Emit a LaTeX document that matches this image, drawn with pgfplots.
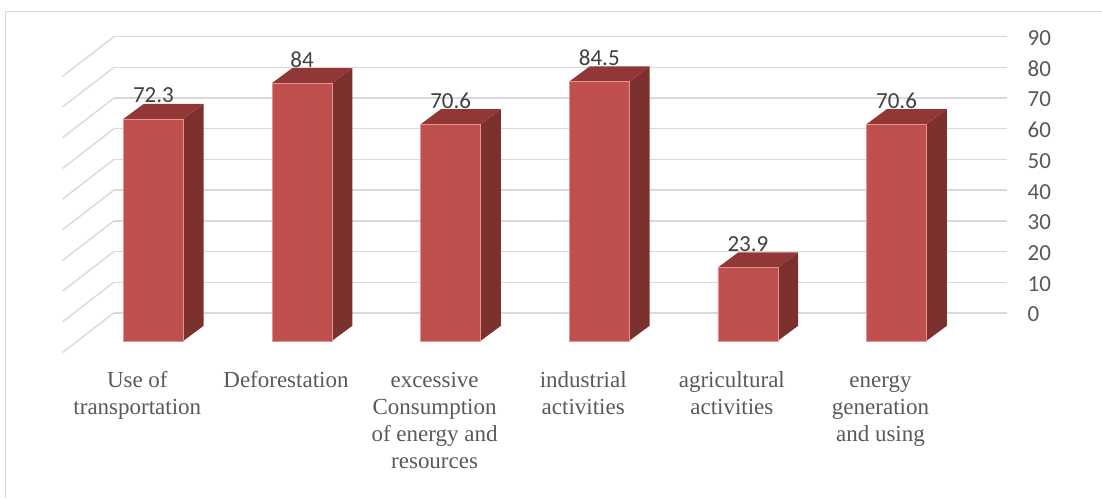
\documentclass[border=0pt]{standalone}
\usepackage{pgfplots}
\pgfplotsset{compat=1.18}
\usepackage{fontspec}
\setmainfont{Liberation Serif}
\newfontfamily\calibri{Carlito}
\definecolor{barfront}{RGB}{192,80,77}
\definecolor{barside}{RGB}{124,49,47}
\definecolor{bartop}{RGB}{145,56,54}
\definecolor{gridc}{RGB}{217,217,217}
\definecolor{labc}{RGB}{89,89,89}
\definecolor{datac}{RGB}{64,64,64}
\definecolor{framec}{RGB}{217,217,217}
\tikzset{catlab/.style={anchor=north, inner sep=0pt, align=center, text=labc, font=\fontsize{23}{27}\selectfont}}
\begin{document}
\begin{tikzpicture}
\begin{axis}[
  x=148.7pt, y=3.07pt,
  xmin=-1.032, xmax=6.379, ymin=-51.14, ymax=111.07,
  scale only axis, clip=false,
  axis line style={draw=none},
  xtick=\empty, ytick=\empty,
]
% chart frame
\draw[framec, line width=1pt] (axis cs:-0.9935,-51.14) -- (axis cs:-0.9935,107.3) -- (axis cs:6.379,107.3);
% back wall and side wall gridlines
\pgfplotsinvokeforeach{9.1,19.1,29.1,39.1,49.1,59.1,69.1,79.1,89.1,99.1}{
  \draw[gridc, line width=1.4pt] (axis cs:-0.266,#1) -- (axis cs:5.746,#1);
  \draw[gridc, line width=1.4pt] (axis cs:-0.611,#1-12.9) -- (axis cs:-0.266,#1);
}
% right-hand value labels
\pgfplotsinvokeforeach{0,10,20,30,40,50,60,70,80,90}{
  \node[anchor=west, inner sep=0pt, text=labc, font=\calibri\fontsize{23}{27}\selectfont, yshift=-1.5pt] at (axis cs:5.881,#1+9.1) {#1};
}
% side faces
\addplot[fill=barside, draw=none] coordinates {(0.2017,0) (0.3382,4.9) (0.3382,77.2) (0.2017,72.3)} -- cycle;
\addplot[fill=barside, draw=none] coordinates {(1.2017,0) (1.3382,4.9) (1.3382,88.9) (1.2017,84)} -- cycle;
\addplot[fill=barside, draw=none] coordinates {(2.2017,0) (2.3382,4.9) (2.3382,75.5) (2.2017,70.6)} -- cycle;
\addplot[fill=barside, draw=none] coordinates {(3.2017,0) (3.3382,4.9) (3.3382,89.4) (3.2017,84.5)} -- cycle;
\addplot[fill=barside, draw=none] coordinates {(4.2017,0) (4.3382,4.9) (4.3382,28.8) (4.2017,23.9)} -- cycle;
\addplot[fill=barside, draw=none] coordinates {(5.2017,0) (5.3382,4.9) (5.3382,75.5) (5.2017,70.6)} -- cycle;
% top faces
\addplot[fill=bartop, draw=none] coordinates {(-0.2017,72.3) (-0.0652,77.2) (0.3382,77.2) (0.2017,72.3)} -- cycle;
\addplot[fill=bartop, draw=none] coordinates {(0.7983,84) (0.9348,88.9) (1.3382,88.9) (1.2017,84)} -- cycle;
\addplot[fill=bartop, draw=none] coordinates {(1.7983,70.6) (1.9348,75.5) (2.3382,75.5) (2.2017,70.6)} -- cycle;
\addplot[fill=bartop, draw=none] coordinates {(2.7983,84.5) (2.9348,89.4) (3.3382,89.4) (3.2017,84.5)} -- cycle;
\addplot[fill=bartop, draw=none] coordinates {(3.7983,23.9) (3.9348,28.8) (4.3382,28.8) (4.2017,23.9)} -- cycle;
\addplot[fill=bartop, draw=none] coordinates {(4.7983,70.6) (4.9348,75.5) (5.3382,75.5) (5.2017,70.6)} -- cycle;
% front faces with data labels
\addplot[ybar, bar width=60pt, fill=barfront, draw={rgb,255:red,226;green,150;blue,148}, line width=0.6pt,
  nodes near coords,
  every node near coord/.append style={anchor=base, yshift=16pt, inner sep=0pt, text=datac, font=\calibri\fontsize{23}{27}\selectfont},
  point meta=explicit symbolic]
  coordinates {(0,72.3)[72.3] (1,84)[84] (2,70.6)[70.6] (3,84.5)[84.5] (4,23.9)[23.9] (5,70.6)[70.6]};
% category labels
\node[catlab] at (axis cs:-0.108,-9.06) {\strut Use of\\transportation};
\node[catlab] at (axis cs:0.892,-9.06) {\strut Deforestation};
\node[catlab] at (axis cs:1.892,-9.06) {\strut excessive\\Consumption\\of energy and\\resources};
\node[catlab] at (axis cs:2.892,-9.06) {\strut industrial\\activities};
\node[catlab] at (axis cs:3.892,-9.06) {\strut agricultural\\activities};
\node[catlab] at (axis cs:4.892,-9.06) {\strut energy\\generation\\and using};
\end{axis}
\end{tikzpicture}
\end{document}
